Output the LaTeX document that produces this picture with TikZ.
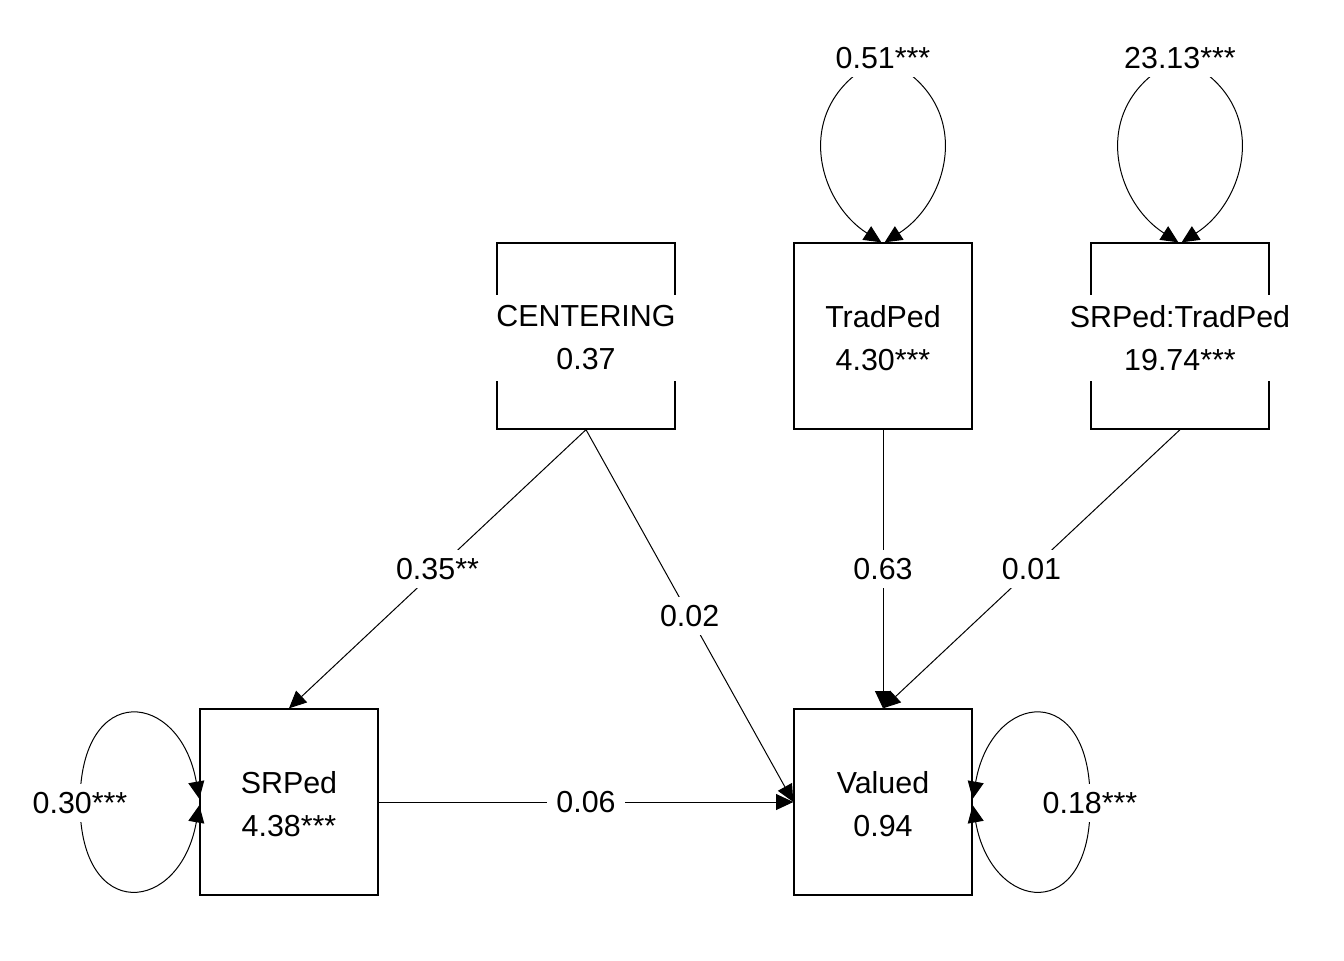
\documentclass[tikz,border=0pt]{standalone}
\usepackage{fontspec}
\setmainfont{Liberation Sans}
\usetikzlibrary{arrows.meta,backgrounds}
\begin{document}
\begin{tikzpicture}[x=0.75pt,y=-0.75pt,
  varbox/.style={draw, line width=1.5pt, minimum width=133pt, minimum height=139pt, inner sep=0pt},
  boxtext/.style={fill=white, align=center, inner xsep=2pt, inner ysep=8pt, font=\fontsize{22.8}{32.25}\selectfont},
  edgelbl/.style={fill=white, inner xsep=7pt, inner ysep=6pt, font=\fontsize{22.8}{27}\selectfont},
  tip/.tip={Triangle[length=13pt,width=12pt]},
  conn/.style={line width=0.75pt, -tip},
  vloop/.style={line width=0.75pt, tip-tip}
]
\useasboundingbox (0,0) rectangle (1344,960);

% variables
\node[varbox, label={[boxtext, yshift=-1.5pt]center:{CENTERING\\0.37}}] (cent) at (586,336) {};
\node[varbox, label={[boxtext, yshift=-1.5pt]center:{TradPed\\4.30***}}] (trad) at (883,336) {};
\node[varbox, label={[boxtext, yshift=-1.5pt]center:{SRPed:TradPed\\19.74***}}] (srt) at (1180,336) {};
\node[varbox, label={[boxtext, yshift=-1.5pt]center:{SRPed\\4.38***}}] (srped) at (289,802) {};
\node[varbox, label={[boxtext, yshift=-1.5pt]center:{Valued\\0.94}}] (val) at (883,802) {};

% variance labels
\node[edgelbl] (l51) at (883,58) {0.51***};
\node[edgelbl] (l2313) at (1180,58) {23.13***};
\node[edgelbl] (l30) at (80,803) {0.30***};
\node[edgelbl] (l18) at (1090,803) {0.18***};

% regressions
\draw[conn] (cent.south) -- node[midway, edgelbl] {0.35**} (srped.north);
\draw[conn] (cent.south) -- node[midway, edgelbl] {0.02} (val.west);
\draw[conn] (trad.south) -- node[midway, edgelbl] {0.63} (val.north);
\draw[conn] (srt.south) -- node[midway, edgelbl] {0.01} (val.north);
\draw[conn] (srped.east) -- node[midway, edgelbl] {0.06} (val.west);

% variances (self loops)
\begin{pgfonlayer}{background}
\draw[vloop] (trad.91) .. controls (815,200) and (790,100) .. (l51.center)
  .. controls (976,100) and (951,200) .. (trad.89);
\draw[vloop] (srt.91) .. controls (1112,200) and (1087,100) .. (l2313.center)
  .. controls (1273,100) and (1248,200) .. (srt.89);
\draw[vloop] (srped.178) .. controls (180,690) and (80,680) .. (l30.center)
  .. controls (80,924) and (180,914) .. (srped.182);
\draw[vloop] (val.2) .. controls (992,690) and (1092,680) .. (l18.center)
  .. controls (1092,924) and (992,914) .. (val.358);
\end{pgfonlayer}
\end{tikzpicture}
\end{document}
